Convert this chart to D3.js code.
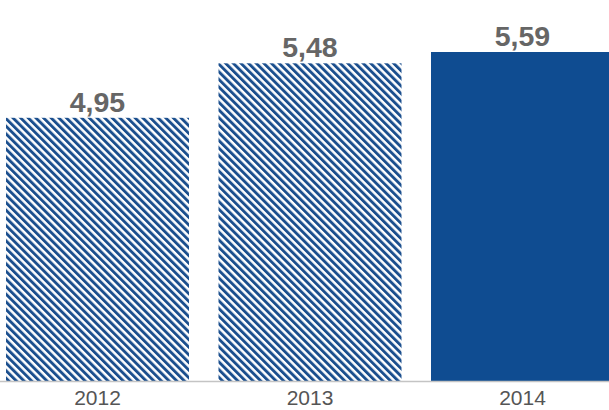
<!DOCTYPE html>
<html>
<head>
<meta charset="utf-8">
<script src="https://cdn.jsdelivr.net/npm/d3@7/dist/d3.min.js"></script>
<style>
  html, body { margin: 0; padding: 0; background: #ffffff; }
  svg { display: block; }
</style>
</head>
<body>
<script>
const years = ["2012", "2013", "2014"];
const values = [4.95, 5.48, 5.59];
const valueLabels = ["4,95", "5,48", "5,59"];
const hatched = [true, true, false];

const W = 609, H = 410;
const svg = d3.select("body").append("svg").attr("width", W).attr("height", H);

const P = 5.4;
const defs = svg.append("defs");
const pat = defs.append("pattern")
  .attr("id", "hatch")
  .attr("patternUnits", "userSpaceOnUse")
  .attr("width", P)
  .attr("height", P)
  .attr("patternTransform", "rotate(-45)");
pat.append("rect").attr("width", P).attr("height", P).attr("fill", "#ffffff");
pat.append("rect").attr("width", 2.9).attr("height", P).attr("fill", "#1b4f8e");

const x = d3.scaleBand().domain(years).range([6, 614]).paddingInner(0.1388).paddingOuter(0);
const y = d3.scaleLinear().domain([2.39, 5.59]).range([381, 52]);

const g = svg.append("g");

g.selectAll("rect.bar")
  .data(years)
  .enter().append("rect")
  .attr("class", "bar")
  .attr("x", d => x(d))
  .attr("width", x.bandwidth())
  .attr("y", (d, i) => y(values[i]))
  .attr("height", (d, i) => y.range()[0] - y(values[i]))
  .attr("fill", (d, i) => hatched[i] ? "url(#hatch)" : "#0f4c91");

// baseline
svg.append("line")
  .attr("x1", 0).attr("x2", W)
  .attr("y1", 381.5).attr("y2", 381.5)
  .attr("stroke", "#c4c4c4").attr("stroke-width", 1.5);

// value labels
g.selectAll("text.val")
  .data(years)
  .enter().append("text")
  .attr("class", "val")
  .attr("x", d => x(d) + x.bandwidth() / 2)
  .attr("y", (d, i) => y(values[i]) - 6)
  .attr("text-anchor", "middle")
  .attr("font-family", "Liberation Sans, Arial, sans-serif")
  .attr("font-weight", "bold")
  .attr("font-size", 28.5)
  .attr("fill", "#666666")
  .text((d, i) => valueLabels[i]);

// x axis
const xAxis = d3.axisBottom(x).tickSize(0).tickPadding(0);
const ax = svg.append("g").attr("transform", "translate(0,390)").call(xAxis);
ax.select(".domain").remove();
ax.selectAll("text")
  .attr("dy", "0.71em")
  .attr("font-family", "Liberation Sans, Arial, sans-serif")
  .attr("font-size", 21)
  .attr("fill", "#555555");
</script>
</body>
</html>
